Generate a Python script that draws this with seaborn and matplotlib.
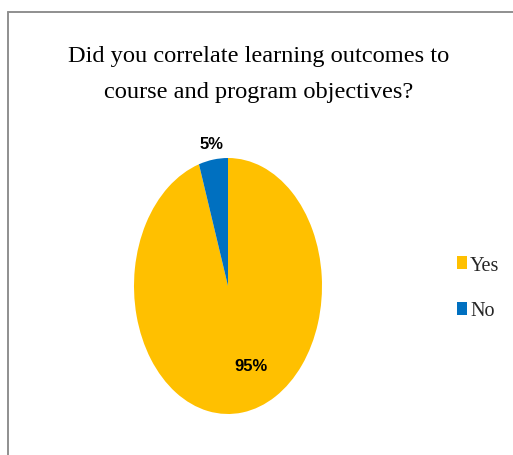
import matplotlib
matplotlib.use("Agg")
import matplotlib.pyplot as plt
from matplotlib.lines import Line2D
import seaborn as sns

# Survey answers
answers = ["Yes", "No"]
shares = [95, 5]
answer_colors = ["#FFC000", "#0070C0"]
title_lines = ["Did you correlate learning outcomes to",
               "course and program objectives?"]

sns.set_theme(style="white")
plt.rcParams["font.family"] = ["Liberation Serif", "DejaVu Serif"]

W, H = 513, 456
fig = plt.figure(figsize=(W / 100, H / 100), dpi=100)
fig.patch.set_facecolor("white")

# outer chart frame (open at right and bottom)
fx, fy = 7.5 / W, 1 - 12.5 / H
fig.add_artist(Line2D([fx, fx], [0, fy], transform=fig.transFigure,
                      color="#8f8f8f", lw=1.4))
fig.add_artist(Line2D([fx, 1], [fy, fy], transform=fig.transFigure,
                      color="#8f8f8f", lw=1.4))

# two-line title
for line, base in zip(title_lines, [62, 98]):
    fig.text(259 / W, 1 - base / H, line, ha="center", va="baseline",
             fontsize=17.6, color="black")

# pie, stretched vertically into an ellipse
ax = fig.add_axes([134 / W, (H - 415) / H, 188 / W, 256 / H])
wedges, _, autotexts = ax.pie(
    shares, colors=answer_colors, startangle=90, counterclock=False,
    radius=1, autopct=lambda p: f"{p:.0f}%", pctdistance=0.6,
    textprops=dict(fontsize=12, fontweight="bold", color="black",
                   family=["Liberation Sans", "DejaVu Sans"]),
    wedgeprops=dict(linewidth=0),
)
ax.set_aspect("auto")
ax.set_xlim(-1, 1)
ax.set_ylim(-1, 1)
ax.axis("off")

label_pos = [(0.245, -0.625), (-0.17, 1.117)]
for t, pos in zip(autotexts, label_pos):
    t.set_position(pos)
    t.set_ha("center")
    t.set_va("center")

# legend on the right
fig.legend(wedges, answers, loc="upper left",
           bbox_to_anchor=(457 / W, 1 - 257 / H), frameon=False,
           fontsize=14.5, handlelength=0.5, handleheight=0.62,
           handletextpad=0.15, labelspacing=1.3, borderpad=0,
           borderaxespad=0)

fig.savefig("out.png", dpi=100, facecolor="white")
